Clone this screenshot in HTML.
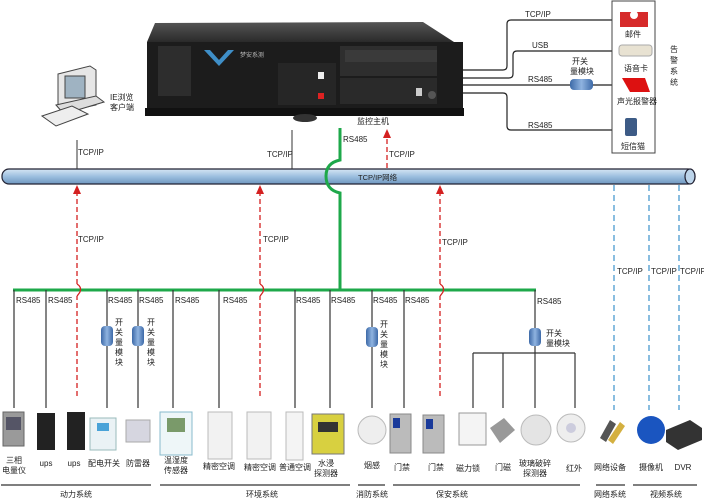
<!DOCTYPE html>
<html><head><meta charset="utf-8"><style>
html,body{margin:0;padding:0;background:#fff;}
svg{display:block;font-family:"Liberation Sans","Noto Sans CJK SC",sans-serif;}
text{font-size:8px;fill:#222;}
</style></head><body>
<svg width="704" height="500" viewBox="0 0 704 500" xmlns="http://www.w3.org/2000/svg">
<defs>
<linearGradient id="pipe" x1="0" y1="0" x2="0" y2="1">
<stop offset="0" stop-color="#d6e6f4"/><stop offset="0.5" stop-color="#9cbfdf"/><stop offset="1" stop-color="#6f97c0"/>
</linearGradient>
<linearGradient id="mod" x1="0" y1="0" x2="1" y2="0">
<stop offset="0" stop-color="#3d6aa8"/><stop offset="0.5" stop-color="#8fb3e0"/><stop offset="1" stop-color="#3d6aa8"/>
</linearGradient>
<linearGradient id="top" x1="0" y1="0" x2="0" y2="1">
<stop offset="0" stop-color="#555"/><stop offset="1" stop-color="#2a2a2a"/>
</linearGradient>
</defs>

<!-- server -->
<polygon points="155,23 423,22 454,42 147,42" fill="url(#top)"/>
<rect x="147" y="42" width="316" height="72" fill="#1c1c1c"/>
<rect x="145" y="108" width="319" height="8" fill="#111"/>
<rect x="158" y="46" width="33" height="50" fill="#2d2d2d"/>
<polygon points="204,50 234,50 219,66" fill="#3f8fc8"/>
<polygon points="210,50 228,50 219,60" fill="#1c1c1c"/>
<text x="240" y="57" style="font-size:6px;fill:#bbb">梦安系测</text>
<rect x="278" y="63" width="58" height="42" fill="#262626"/>
<rect x="318" y="72" width="6" height="7" fill="#eee"/>
<rect x="318" y="93" width="6" height="6" fill="#d22"/>
<rect x="340" y="46" width="97" height="30" fill="#2e2e2e"/>
<rect x="345" y="50" width="92" height="12" fill="#3a3a3a"/>
<rect x="340" y="78" width="97" height="26" fill="#2a2a2a"/>
<rect x="416" y="88" width="6" height="8" fill="#ccc"/>
<circle cx="432" cy="95" r="4" fill="#555"/>
<ellipse cx="305" cy="118" rx="12" ry="4" fill="#333"/>
<text x="357" y="124">监控主机</text>

<!-- computer -->
<polygon points="58,74 90,66 96,70 96,105 64,112 58,107" fill="#e6e6e6" stroke="#444" stroke-width="1"/>
<rect x="65" y="76" width="20" height="22" fill="#9fb3c2" stroke="#444"/>
<polygon points="56,105 96,96 104,102 64,114" fill="#ddd" stroke="#444"/>
<polygon points="42,116 72,106 88,114 56,126" fill="#eee" stroke="#444"/>
<text x="110" y="100">IE浏览</text><text x="110" y="110">客户端</text>

<!-- right alarm lines -->
<g fill="none" stroke="#222" stroke-width="1.2">
<path d="M463,70 H503 Q507,70 507,66 V24 Q507,20 511,20 H612"/>
<path d="M463,78 H509 Q513,78 513,74 V55 Q513,51 517,51 H615"/>
<path d="M463,85 H612"/>
<path d="M463,93 H503 Q507,93 507,97 V126 Q507,130 511,130 H612"/>
</g>
<rect x="570" y="79" width="23" height="11" rx="4" fill="url(#mod)"/>
<text x="525" y="17">TCP/IP</text><text x="532" y="48">USB</text>
<text x="528" y="82">RS485</text><text x="528" y="128">RS485</text>
<text x="572" y="64">开关</text><text x="570" y="74">量模块</text>
<rect x="612" y="1" width="43" height="152" fill="#fff" stroke="#444"/>
<polygon points="620,12 648,12 648,27 620,27" fill="#d62a2a"/><circle cx="634" cy="15" r="4" fill="#fff"/>
<text x="625" y="37">邮件</text>
<rect x="619" y="45" width="33" height="11" rx="3" fill="#e8e2d2" stroke="#aaa"/>
<text x="624" y="71">语音卡</text>
<path d="M622,78 H645 L650,92 H630 Z" fill="#d11"/>
<text x="617" y="104">声光报警器</text>
<rect x="625" y="118" width="12" height="18" rx="2" fill="#3d5b86"/>
<text x="621" y="149">短信猫</text>
<text x="670" y="52">告</text><text x="670" y="63">警</text><text x="670" y="74">系</text><text x="670" y="85">统</text>

<!-- pipe -->
<rect x="2" y="169" width="693" height="15" rx="7" fill="url(#pipe)" stroke="#223" stroke-width="1.2"/>
<ellipse cx="690" cy="176.5" rx="5" ry="7.5" fill="#bcd4ea" stroke="#223" stroke-width="1.2"/>
<text x="358" y="180" style="font-size:7.5px">TCP/IP网络</text>

<!-- black tcp lines to pipe -->
<line x1="77" y1="140" x2="77" y2="169" stroke="#333"/>
<line x1="292" y1="130" x2="292" y2="169" stroke="#333"/>
<text x="78" y="155">TCP/IP</text><text x="267" y="157">TCP/IP</text>

<!-- green main -->
<g fill="none" stroke="#1ea84a" stroke-width="3">
<path d="M340,128 V160 Q326,163 326,176 Q326,190 340,193 V290"/>
<line x1="13" y1="290" x2="536" y2="290"/>
</g>
<text x="343" y="142">RS485</text>

<!-- red dashed -->
<g fill="none" stroke="#d42020" stroke-width="1.3" stroke-dasharray="5,3">
<path d="M77,284 V192"/><path d="M260,284 V192"/><path d="M440,284 V192"/><path d="M387,168 V136"/>
<path d="M77,396 V296"/><path d="M260,396 V296"/><path d="M440,396 V296"/>
</g>
<g fill="none" stroke="#d42020" stroke-width="1.2">
<path d="M77,284 Q82,287 80,292 Q78,295 77,296"/>
<path d="M260,284 Q265,287 263,292 Q261,295 260,296"/>
<path d="M440,284 Q445,287 443,292 Q441,295 440,296"/>
</g>
<g fill="#d42020">
<polygon points="73,194 81,194 77,185"/><polygon points="256,194 264,194 260,185"/>
<polygon points="436,194 444,194 440,185"/><polygon points="383,138 391,138 387,129"/>
</g>
<text x="78" y="242">TCP/IP</text><text x="263" y="242">TCP/IP</text><text x="442" y="245">TCP/IP</text><text x="389" y="157">TCP/IP</text>

<!-- blue dashed -->
<g stroke="#4a9ad0" stroke-width="1.3" stroke-dasharray="6,4">
<line x1="614" y1="185" x2="614" y2="410"/><line x1="649" y1="185" x2="649" y2="410"/><line x1="679" y1="185" x2="679" y2="410"/>
</g>
<g style="font-size:7.5px"><text x="617" y="274">TCP/IP</text><text x="651" y="274">TCP/IP</text><text x="680" y="274">TCP/IP</text></g>

<!-- drops -->
<g stroke="#333" stroke-width="1.2">
<line x1="14" y1="290" x2="14" y2="408"/><line x1="46" y1="290" x2="46" y2="408"/>
<line x1="107" y1="290" x2="107" y2="408"/><line x1="138" y1="290" x2="138" y2="408"/>
<line x1="173" y1="290" x2="173" y2="408"/><line x1="219" y1="290" x2="219" y2="408"/>
<line x1="295" y1="290" x2="295" y2="408"/><line x1="330" y1="290" x2="330" y2="408"/>
<line x1="372" y1="290" x2="372" y2="408"/><line x1="404" y1="290" x2="404" y2="408"/>
<line x1="535" y1="290" x2="535" y2="353"/>
<line x1="473" y1="353" x2="575" y2="353"/>
<line x1="473" y1="353" x2="473" y2="408"/><line x1="503" y1="353" x2="503" y2="408"/>
<line x1="535" y1="353" x2="535" y2="408"/><line x1="575" y1="353" x2="575" y2="408"/>
</g>
<g fill="url(#mod)">
<rect x="101" y="326" width="12" height="20" rx="4"/><rect x="132" y="326" width="12" height="20" rx="4"/>
<rect x="366" y="327" width="12" height="20" rx="4"/><rect x="529" y="328" width="12" height="18" rx="4"/>
</g>
<g>
<text x="16" y="303">RS485</text><text x="48" y="303">RS485</text><text x="108" y="303">RS485</text>
<text x="139" y="303">RS485</text><text x="175" y="303">RS485</text><text x="223" y="303">RS485</text>
<text x="296" y="303">RS485</text><text x="331" y="303">RS485</text><text x="373" y="303">RS485</text>
<text x="405" y="303">RS485</text><text x="537" y="304">RS485</text>
</g>
<g style="font-size:7.5px">
<text x="115" y="325">开</text><text x="115" y="335">关</text><text x="115" y="345">量</text><text x="115" y="355">模</text><text x="115" y="365">块</text>
<text x="147" y="325">开</text><text x="147" y="335">关</text><text x="147" y="345">量</text><text x="147" y="355">模</text><text x="147" y="365">块</text>
<text x="380" y="327">开</text><text x="380" y="337">关</text><text x="380" y="347">量</text><text x="380" y="357">模</text><text x="380" y="367">块</text>
<text x="546" y="336">开关</text><text x="546" y="346">量模块</text>
</g>

<!-- devices -->
<rect x="3" y="412" width="21" height="34" fill="#9a9a9a" stroke="#666"/><rect x="6" y="417" width="15" height="13" fill="#556"/>
<rect x="37" y="413" width="18" height="37" fill="#222"/>
<rect x="67" y="412" width="18" height="38" fill="#222"/>
<rect x="90" y="418" width="26" height="32" fill="#eaf2f5" stroke="#9bb"/><rect x="97" y="423" width="12" height="8" fill="#4aa3d8"/>
<rect x="126" y="420" width="24" height="22" fill="#d6d6e0" stroke="#aaa"/>
<rect x="160" y="412" width="32" height="43" fill="#eef6f8" stroke="#8bc"/><rect x="167" y="418" width="18" height="14" fill="#7a9a6a"/>
<rect x="208" y="412" width="24" height="47" fill="#f2f2f2" stroke="#bbb"/>
<rect x="247" y="412" width="24" height="47" fill="#f2f2f2" stroke="#bbb"/>
<rect x="286" y="412" width="17" height="48" fill="#f4f4f4" stroke="#bbb"/>
<rect x="312" y="414" width="32" height="40" fill="#d8d040" stroke="#777"/><rect x="318" y="422" width="20" height="10" fill="#333"/>
<circle cx="372" cy="430" r="14" fill="#eee" stroke="#bbb"/>
<rect x="390" y="414" width="21" height="39" fill="#bbb" stroke="#888"/><rect x="393" y="418" width="7" height="10" fill="#1a3a9a"/>
<rect x="423" y="415" width="21" height="38" fill="#bbb" stroke="#888"/><rect x="426" y="419" width="7" height="10" fill="#1a3a9a"/>
<rect x="459" y="413" width="27" height="32" fill="#f4f4f4" stroke="#999"/>
<polygon points="490,428 504,418 515,430 500,443" fill="#999"/>
<circle cx="536" cy="430" r="15" fill="#e4e4e4" stroke="#bbb"/>
<circle cx="571" cy="428" r="14" fill="#eee" stroke="#bbb"/><circle cx="571" cy="428" r="5" fill="#ccd"/>
<polygon points="600,438 610,420 616,424 606,442" fill="#555"/><polygon points="608,440 620,422 625,426 613,444" fill="#d4b040"/>
<circle cx="651" cy="430" r="14" fill="#1a55c0"/>
<polygon points="666,430 690,420 702,428 702,440 678,450 666,442" fill="#333"/>

<g style="font-size:7.5px" text-anchor="middle">
<text x="14" y="463">三相</text><text x="14" y="473">电量仪</text>
<text x="46" y="466">ups</text><text x="74" y="466">ups</text>
<text x="104" y="466">配电开关</text><text x="138" y="466">防雷器</text>
<text x="176" y="463">温湿度</text><text x="176" y="473">传感器</text>
<text x="219" y="469">精密空调</text><text x="260" y="470">精密空调</text><text x="295" y="470">普通空调</text>
<text x="326" y="466">水浸</text><text x="326" y="476">探测器</text>
<text x="372" y="468">烟感</text><text x="402" y="470">门禁</text><text x="436" y="470">门禁</text>
<text x="468" y="471">磁力锁</text><text x="503" y="470">门磁</text>
<text x="535" y="466">玻璃破碎</text><text x="535" y="476">探测器</text>
<text x="574" y="471">红外</text><text x="610" y="470">网络设备</text><text x="651" y="470">摄像机</text><text x="683" y="470">DVR</text>
<text x="76" y="497">动力系统</text><text x="262" y="497">环境系统</text><text x="372" y="497">消防系统</text>
<text x="452" y="497">保安系统</text><text x="610" y="497">网络系统</text><text x="666" y="497">视频系统</text>
</g>
<g stroke="#333" stroke-width="1.2">
<line x1="1" y1="485" x2="151" y2="485"/><line x1="160" y1="485" x2="350" y2="485"/>
<line x1="358" y1="485" x2="385" y2="485"/><line x1="393" y1="485" x2="580" y2="485"/>
<line x1="596" y1="485" x2="625" y2="485"/><line x1="633" y1="485" x2="697" y2="485"/>
</g>
</svg>
</body></html>
